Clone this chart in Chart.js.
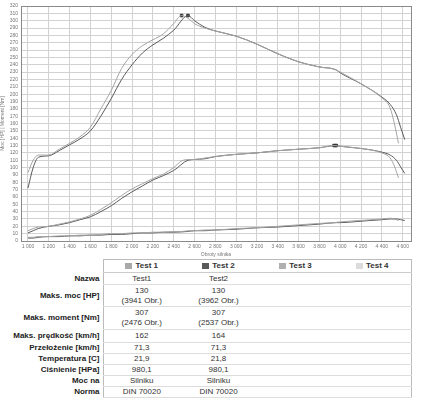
<!DOCTYPE html>
<html>
<head>
<meta charset="utf-8">
<script src="https://cdn.jsdelivr.net/npm/chart.js@4.4.0/dist/chart.umd.min.js"></script>
<style>
body{margin:0;background:#fff;font-family:"Liberation Sans",Arial,sans-serif;}
#wrap{position:absolute;left:0;top:0;width:433px;height:258px;}
#tbl{position:absolute;left:0;top:259px;border-collapse:collapse;font-size:8px;color:#333;table-layout:fixed;}
#tbl td,#tbl th{padding:0;text-align:center;line-height:10px;}
#tbl td.lab{text-align:right;font-weight:bold;padding-right:3px;color:#222;}
#tbl th{font-weight:bold;height:12px;border-top:1px solid #bbb;border-bottom:1px solid #ccc;}
#tbl td.v{border-bottom:1px solid #ddd;}
#tbl .first{border-left:1px solid #bbb;}
#tbl .last{border-right:1px solid #bbb;}
.sw{display:inline-block;width:7px;height:6px;margin-right:3px;vertical-align:-1px;}
</style>
</head>
<body>
<div id="wrap"><canvas id="mycanvas"></canvas></div>
<table id="tbl"></table>
<script>
// Test 1 (light line)
var rpm1    = [1000,1050,1100,1200,1300,1400,1500,1600,1700,1800,1900,2000,2100,2200,2300,2400,2476,2550,2600,2700,2800,3000,3200,3400,3600,3800,3941,4000,4200,4400,4480,4520,4560];
var torque1 = [93,110,117,117,125,133,142,155,180,205,235,254,266,274,282,296,307,302,296,290,286,279,268,255,244,237,234,230,214,195,181,160,133];
var power1  = [14,17,19,20,23,26,30,35,43,52,62,71,78,85,91,100,109,111,111,113,115,118,120,123,125,127,130,129,126,120,113,102,86];
var loss1   = [5,5,6,6,7,7,8,8,9,10,10,11,11,12,12,13,13,14,14,15,15,17,18,20,22,24,25,26,28,30,31,30,28];

// Test 2 (dark line)
var rpm2    = [1000,1050,1100,1200,1300,1400,1500,1600,1700,1800,1900,2000,2100,2200,2300,2400,2537,2600,2700,2800,3000,3200,3400,3600,3800,3962,4000,4200,4400,4480,4540,4580,4620];
var torque2 = [72,100,114,116,123,131,139,150,170,194,220,240,256,267,276,287,307,300,291,286,279,268,255,244,237,233,229,214,196,186,172,155,138];
var power2  = [11,14,17,20,22,25,29,33,40,48,58,67,75,83,89,96,110,111,112,115,118,120,123,125,127,130,129,126,121,117,110,101,92];
var loss2   = [4,4,5,6,6,7,7,8,8,9,9,10,11,11,12,12,13,14,14,15,16,18,19,21,23,25,25,27,29,30,30,29,28];

var peakRpm = [2476,2537,3941,3962];
var peakVal = [307,307,130,130];

var xTicks = [1000,1200,1400,1600,1800,2000,2200,2400,2600,2800,3000,3200,3400,3600,3800,4000,4200,4400,4600];

var testNames = ['Test 1','Test 2','Test 3','Test 4'];
var testColors = ['#a9a9a9','#595959','#b0b0b0','#dcdcdc'];
var rowLabels = ['Nazwa','Maks. moc [HP]','Maks. moment [Nm]','Maks. prędkość [km/h]','Przełożenie [km/h]','Temperatura [C]','Ciśnienie [HPa]','Moc na','Norma'];
var test1Info = ['Test1','130|(3941 Obr.)','307|(2476 Obr.)','162','71,3','21,9','980,1','Silniku','DIN 70020'];
var test2Info = ['Test2','130|(3962 Obr.)','307|(2537 Obr.)','164','71,3','21,8','980,1','Silniku','DIN 70020'];
var rowHeights = [12,22,23,13,11,11,11,11,11];

function pts(xs, ys){
  return xs.map(function(x, i){ return {x: x, y: ys[i]}; });
}

function line(data, color){
  return {
    data: data,
    borderColor: color,
    borderWidth: 1,
    pointRadius: 0,
    fill: false,
    cubicInterpolationMode: 'monotone'
  };
}

var frame = {
  id: 'frame',
  afterDraw: function(chart){
    var a = chart.chartArea, c = chart.ctx;
    c.save();
    c.strokeStyle = '#8a8a8a';
    c.lineWidth = 1;
    c.strokeRect(a.left + 0.5, a.top + 0.5, a.right - a.left, a.bottom - a.top);
    c.restore();
  }
};

var ctx = document.getElementById('mycanvas');
new Chart(ctx, {
  type: 'line',
  data: {
    datasets: [
      line(pts(rpm1, torque1), '#a4a4a4'),
      line(pts(rpm1, power1), '#a4a4a4'),
      line(pts(rpm1, loss1), '#a4a4a4'),
      line(pts(rpm2, torque2), '#5a5a5a'),
      line(pts(rpm2, power2), '#5a5a5a'),
      line(pts(rpm2, loss2), '#5a5a5a'),
      {
        type: 'scatter',
        data: pts(peakRpm, peakVal),
        pointStyle: 'rect',
        pointRadius: 1.8,
        backgroundColor: '#333',
        borderColor: '#333',
        showLine: false
      }
    ]
  },
  options: {
    responsive: true,
    maintainAspectRatio: false,
    animation: false,
    layout: { padding: { top: 4, right: 22, left: 0, bottom: 0 } },
    plugins: { legend: { display: false }, tooltip: { enabled: false } },
    scales: {
      x: {
        type: 'linear',
        min: 933,
        max: 4680,
        afterBuildTicks: function(s){ s.ticks = xTicks.map(function(v){ return {value: v}; }); },
        afterFit: function(s){ s.height = 17; },
        grid: { color: '#d2d2d2', lineWidth: 1, drawTicks: false },
        border: { color: '#8a8a8a' },
        ticks: {
          autoSkip: false,
          maxRotation: 0,
          padding: 3,
          color: '#777',
          font: { size: 5 },
          callback: function(v){ return String(v).replace(/\B(?=(\d{3})+$)/, ' '); }
        },
        title: { display: true, text: 'Obroty silnika', color: '#777', font: { size: 5 }, padding: 0 }
      },
      y: {
        min: 0,
        max: 320,
        afterFit: function(s){ s.width = 21; },
        grid: { color: '#d2d2d2', lineWidth: 1, drawTicks: false },
        border: { color: '#8a8a8a' },
        ticks: { stepSize: 10, autoSkip: false, padding: 3, color: '#777', font: { size: 5 } },
        title: { display: true, text: 'Moc [HP] | Moment [Nm]', color: '#777', font: { size: 5 }, padding: 0 }
      }
    }
  },
  plugins: [frame]
});

// results table
var tbl = document.getElementById('tbl');
var html = '<colgroup><col style="width:103px">';
for (var k = 0; k < 4; k++) html += '<col style="width:77px">';
html += '</colgroup><tr><th style="border:none"></th>';
testNames.forEach(function(n, i){
  html += '<th class="' + (i === 0 ? 'first' : '') + (i === 3 ? ' last' : '') + '"><span class="sw" style="background:' + testColors[i] + '"></span>' + n + '</th>';
});
html += '</tr>';
rowLabels.forEach(function(lab, r){
  var cells = [test1Info[r], test2Info[r], '', ''];
  html += '<tr style="height:' + rowHeights[r] + 'px"><td class="lab">' + lab + '</td>';
  cells.forEach(function(c, i){
    html += '<td class="v' + (i === 0 ? ' first' : '') + (i === 3 ? ' last' : '') + '">' + c.replace('|', '<br>') + '</td>';
  });
  html += '</tr>';
});
tbl.innerHTML = html;
</script>
</body>
</html>
